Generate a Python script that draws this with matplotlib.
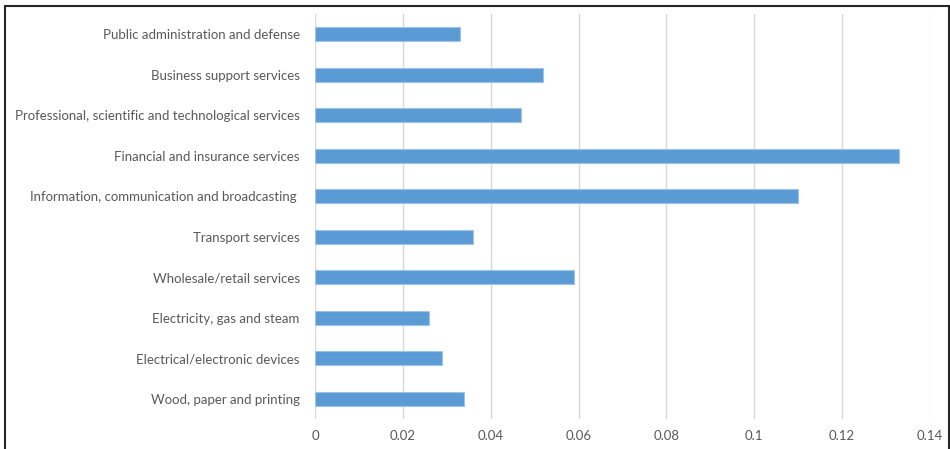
import matplotlib
matplotlib.use("Agg")
import matplotlib.pyplot as plt
from matplotlib.patches import Rectangle

# sectors, bottom to top as drawn on the chart
sectors = [
    "Wood, paper and printing",
    "Electrical/electronic devices",
    "Electricity, gas and steam",
    "Wholesale/retail services",
    "Transport services",
    "Information, communication and broadcasting ",
    "Financial and insurance services",
    "Professional, scientific and technological services",
    "Business support services",
    "Public administration and defense",
]
values = [0.034, 0.029, 0.026, 0.059, 0.036, 0.110, 0.133, 0.047, 0.052, 0.033]
xticks = [0, 0.02, 0.04, 0.06, 0.08, 0.1, 0.12, 0.14]

plt.rcParams['font.family'] = ['Lato', 'DejaVu Sans']
text_color = "#595959"

fig = plt.figure(figsize=(9.5, 4.49), dpi=100)
ax = fig.add_axes([315 / 950, 1 - 419 / 449, 615 / 950, 405 / 449])

ypos = range(len(sectors))
ax.barh(ypos, values, height=0.35, color="#5B9BD5",
        edgecolor="#9DC3E6", linewidth=0.8, zorder=3)

ax.set_xlim(0, 0.14)
ax.set_ylim(-0.5, len(sectors) - 0.5)
ax.set_xticks(xticks)
ax.set_xticklabels([f"{v:g}" for v in xticks])
ax.set_yticks(list(ypos))
ax.set_yticklabels(sectors)

ax.grid(axis="x", color="#D9D9D9", linewidth=1, zorder=0)
for s in ax.spines.values():
    s.set_visible(False)
ax.tick_params(axis="both", length=0, colors=text_color, labelsize=9.5)
ax.tick_params(axis="y", pad=11)
ax.tick_params(axis="x", pad=8)

# outer frame around the figure
fig.patches.append(Rectangle((5 / 950, -0.02), 944 / 950, 1 - 6 / 449 + 0.02,
                             transform=fig.transFigure, fill=False,
                             edgecolor="#262626", linewidth=1.5))

fig.savefig("out.png", dpi=100)
